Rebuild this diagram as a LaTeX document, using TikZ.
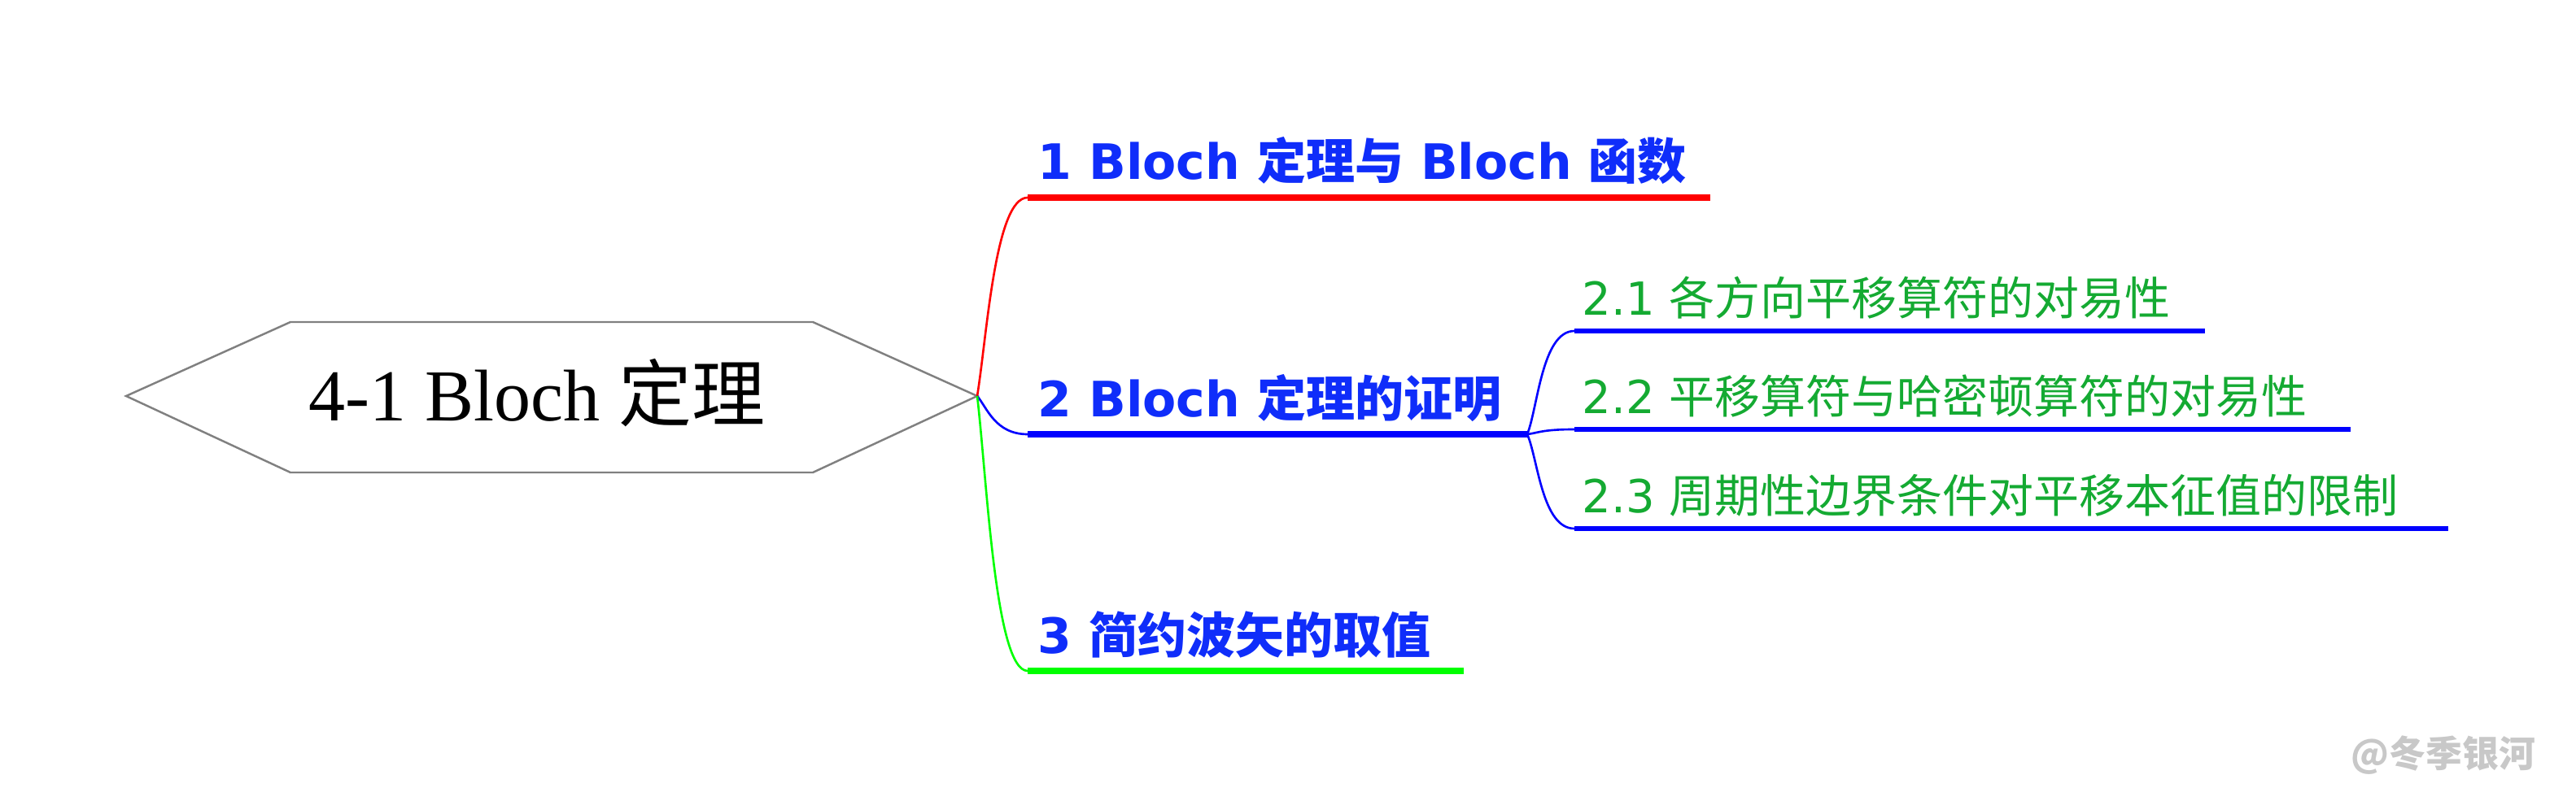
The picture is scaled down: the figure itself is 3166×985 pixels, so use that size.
\documentclass[tikz,border=0pt]{standalone}
\usepackage{fontspec}
\setmainfont{Liberation Serif}
\setsansfont{DejaVu Sans}
\newfontfamily\zh{Noto Sans CJK SC}
\usetikzlibrary{calc}

\definecolor{hexgray}{RGB}{128,128,128}
\definecolor{txtblue}{RGB}{15,45,250}
\definecolor{txtgreen}{RGB}{20,170,50}
\definecolor{markgray}{RGB}{200,200,200}

\begin{document}
\begin{tikzpicture}[x=0.01cm, y=-0.01cm,
    conn/.style={line width=0.75pt},
    mainline/.style={line width=2.3pt},
    subline/.style={line width=1.9pt, blue},
    maintext/.style={anchor=base west, inner sep=0, text=txtblue, font=\sffamily\bfseries\fontsize{17.07}{20}\selectfont},
    subtext/.style={anchor=base west, inner sep=0, text=txtgreen, font=\sffamily\fontsize{15.93}{19}\selectfont}]
  \useasboundingbox (0,0) rectangle (3166,985);
  % root
  \coordinate (root) at (1201,487);
  \draw[hexgray, line width=0.7pt] (155,487) -- (357,396) -- (999,396) -- (root) -- (999,581) -- (357,581) -- cycle;
  \node (title) [anchor=base, inner sep=0, font=\fontsize{25.6}{30}\selectfont] at (660,517) {4-1 Bloch {\zh 定理}};
  % main branches
  \foreach \n/\yy/\xend/\col/\txt in {1/243/2102/red/{1 Bloch {\zh 定理与} Bloch {\zh 函数}},
      2/534/1877/blue/{2 Bloch {\zh 定理的证明}},
      3/825/1799/green/{3 {\zh 简约波矢的取值}}} {
    \coordinate (b\n) at (1263,\yy);
    \coordinate (e\n) at (\xend,\yy);
    \draw[mainline, \col] (b\n) -- (e\n);
    \draw[conn, \col] (root) .. controls ($(root)!0.3!(root|-b\n)+(12,0)$) and ($(b\n)+(-40,0)$) .. (b\n);
    \node (t\n) [maintext] at ($(b\n)+(12,-22)$) {\txt};
  }
  % sub branches of 2
  \foreach \n/\yy/\xend/\txt in {1/407/2710/{2.1 {\zh 各方向平移算符的对易性}},
      2/528/2889/{2.2 {\zh 平移算符与哈密顿算符的对易性}},
      3/650/3009/{2.3 {\zh 周期性边界条件对平移本征值的限制}}} {
    \coordinate (s\n) at (1935,\yy);
    \coordinate (f\n) at (\xend,\yy);
    \draw[subline] (s\n) -- (f\n);
    \draw[conn, blue] (e2) .. controls ($(e2)!0.25!(e2|-s\n)+(13,0)$) and ($(s\n)+(-40,0)$) .. (s\n);
    \node (u\n) [subtext] at ($(s\n)+(9,-20)$) {\txt};
  }
  \node (mark) [anchor=base east, inner sep=0, text=markgray, font=\zh\bfseries\fontsize{12.8}{15}\selectfont] at (3117,943) {@冬季银河};
\end{tikzpicture}
\end{document}
